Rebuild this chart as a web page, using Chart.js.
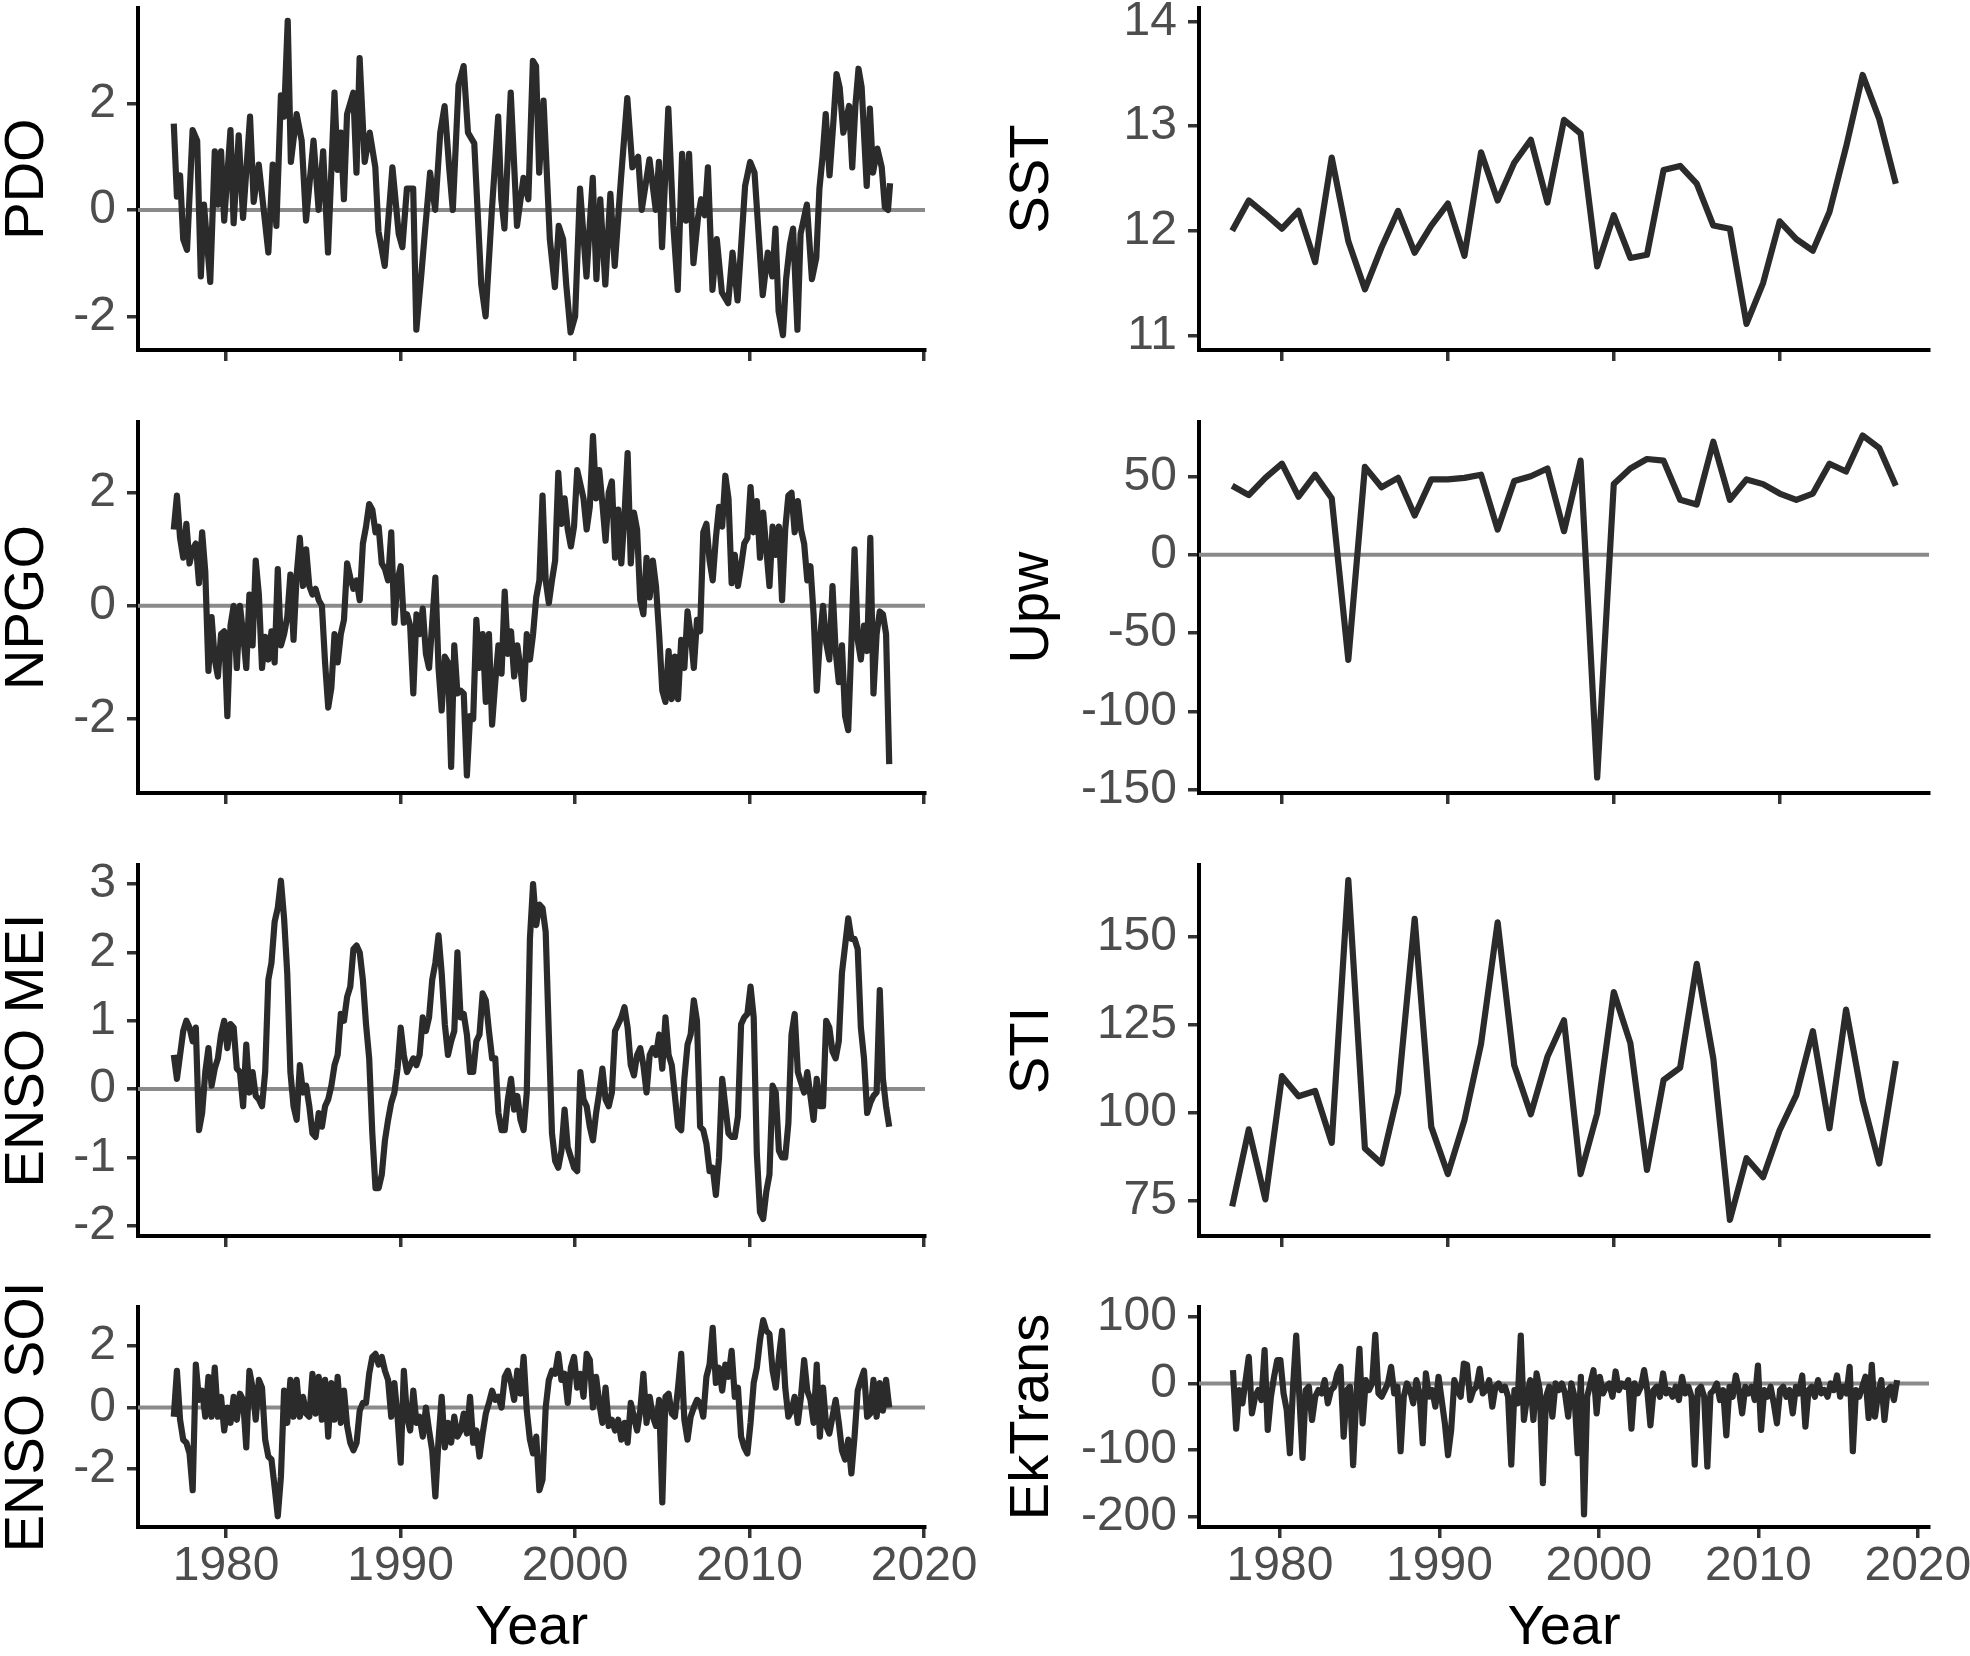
<!DOCTYPE html>
<html>
<head>
<meta charset="utf-8">
<script src="https://cdn.jsdelivr.net/npm/chart.js@4.4.1/dist/chart.umd.min.js"></script>
<style>
  html, body { margin: 0; padding: 0; background: #fff; }
  body { width: 1970px; height: 1656px; position: relative; overflow: hidden; }
  .panel { position: absolute; }
</style>
</head>
<body>
<script>
// ---- data ----
// left column: monthly climate indices 1977-2018 (sampled along the trace)
const pdoYears = [1977.00,1977.18,1977.36,1977.54,1977.76,1978.08,1978.34,1978.55,1978.73,1979.09,
  1979.35,1979.53,1979.71,1979.89,1980.25,1980.43,1980.72,1980.97,1981.37,1981.58,
  1981.87,1982.42,1982.67,1982.88,1983.14,1983.32,1983.53,1983.71,1984.04,1984.33,
  1984.58,1985.01,1985.30,1985.56,1985.84,1986.21,1986.39,1986.57,1986.75,1986.93,
  1987.29,1987.47,1987.65,1987.94,1988.23,1988.55,1988.73,1989.09,1989.53,1989.89,
  1990.10,1990.36,1990.72,1990.90,1991.19,1991.37,1991.69,1991.98,1992.27,1992.52,
  1992.78,1992.99,1993.32,1993.61,1993.86,1994.22,1994.62,1994.87,1995.23,1995.59,
  1995.77,1995.95,1996.31,1996.67,1997.04,1997.32,1997.58,1997.76,1997.94,1998.19,
  1998.55,1998.84,1999.06,1999.31,1999.49,1999.74,2000.00,2000.28,2000.65,2001.01,
  2001.22,2001.44,2001.73,2002.02,2002.27,2002.63,2002.99,2003.28,2003.61,2003.82,
  2004.26,2004.62,2004.80,2004.98,2005.34,2005.63,2005.88,2006.13,2006.35,2006.53,
  2006.78,2007.04,2007.22,2007.43,2007.61,2007.87,2008.12,2008.41,2008.77,2009.02,
  2009.31,2009.74,2010.03,2010.28,2010.75,2011.04,2011.30,2011.48,2011.66,2011.91,
  2012.09,2012.31,2012.49,2012.74,2012.92,2013.28,2013.57,2013.82,2014.00,2014.18,
  2014.36,2014.58,2014.80,2014.98,2015.16,2015.37,2015.70,2015.88,2016.06,2016.24,
  2016.42,2016.71,2016.89,2017.07,2017.32,2017.57,2017.75,2017.93,2018.05];
const pdoValues = [1.62,0.25,0.65,-0.55,-0.75,1.5,1.3,-1.25,0.1,-1.35,
  1.1,0.1,1.1,-0.2,1.5,-0.25,1.4,-0.15,1.75,0.15,
  0.85,-0.8,0.85,-0.3,2.15,1.75,3.55,0.9,1.8,1.3,
  -0.2,1.3,0.0,1.1,-0.8,2.2,0.75,1.45,0.2,1.8,
  2.2,0.7,2.85,0.9,1.45,0.8,-0.4,-1.05,0.8,-0.45,
  -0.7,0.4,0.4,-2.25,-1.2,-0.5,0.7,0.0,1.45,1.95,
  0.8,0.0,2.35,2.7,1.45,1.25,-1.4,-2.0,0.0,1.75,
  0.2,-0.35,2.2,-0.3,0.6,0.2,2.8,2.7,0.7,2.05,
  -0.55,-1.45,-0.3,-0.55,-1.4,-2.3,-2.0,0.4,-1.25,0.6,
  -1.3,0.2,-1.4,0.3,-1.05,0.6,2.1,0.8,1.0,0.0,
  0.95,0.0,0.9,-0.7,1.9,-0.3,-1.5,1.05,-0.2,1.05,
  -1.0,-0.15,0.2,-0.1,0.8,-1.5,-0.55,-1.55,-1.75,-0.8,
  -1.7,0.45,0.9,0.7,-1.6,-0.8,-1.25,-0.35,-1.9,-2.35,
  -1.3,-0.65,-0.35,-2.25,-0.45,0.1,-1.3,-0.9,0.4,1.0,
  1.8,0.65,1.65,2.55,2.3,1.45,1.95,0.8,1.95,2.65,
  2.3,0.45,1.9,0.7,1.15,0.8,0.05,0.0,0.5];

// these three were read at an even spacing from 1977 to 2018
const npgoValues = [1.35,1.95,1.2,0.85,1.45,0.75,1.0,1.1,0.4,1.3,
  0.6,-1.15,-0.2,-0.95,-1.25,-0.5,-0.45,-1.95,-0.35,0.0,
  -1.1,0.0,-0.5,-1.1,0.2,-0.7,0.8,0.2,-1.1,-0.55,
  -0.95,-0.45,-1.0,0.65,-0.7,-0.5,-0.2,0.55,-0.6,0.55,
  1.2,0.35,1.0,0.35,0.2,0.3,0.1,0.0,-1.0,-1.8,
  -1.45,-0.5,-1.0,-0.5,-0.25,0.75,0.5,0.3,0.45,0.1,
  1.1,1.4,1.8,1.7,1.3,1.4,0.75,0.65,0.45,1.3,
  -0.3,0.45,0.7,-0.3,-0.15,-0.35,-1.55,-0.15,-0.5,-0.05,
  -0.85,-1.1,-0.3,0.5,-1.1,-1.85,-0.9,-1.0,-2.85,-0.7,
  -1.55,-1.5,-1.55,-3.0,-1.95,-2.0,-0.25,-1.1,-0.5,-1.7,
  -0.5,-2.1,-1.35,-0.7,-1.2,0.25,-0.85,-0.45,-1.25,-0.7,
  -1.1,-1.65,-0.5,-0.95,-0.5,0.15,0.45,1.95,0.45,0.05,
  0.45,0.8,2.35,1.45,1.9,1.35,1.05,1.4,2.4,2.15,
  1.9,1.35,1.75,3.0,1.9,2.4,1.8,1.15,2.0,2.2,
  0.85,1.7,0.75,1.6,2.7,0.75,1.65,1.35,0.1,-0.15,
  0.85,0.15,0.8,0.35,-0.5,-1.5,-1.7,-0.8,-1.65,-0.9,
  -1.65,-0.6,-1.1,-0.1,-0.5,-1.1,-0.25,-0.45,1.3,1.45,
  0.8,0.45,1.2,1.75,1.4,2.3,1.9,0.4,0.9,0.35,
  0.7,1.1,1.2,2.1,1.3,1.85,0.85,1.65,1.0,0.35,
  1.4,0.9,1.4,0.1,1.35,1.95,2.0,1.3,1.85,1.35,
  1.1,0.45,0.7,-0.15,-1.5,-0.6,0.0,-0.65,-0.95,0.35,
  -0.8,-1.35,-0.7,-1.95,-2.2,-0.65,1.0,-0.6,-0.95,-0.35,
  -0.8,1.2,-1.55,-0.5,-0.1,-0.15,-0.5,-2.8];

const meiValues = [0.5,0.15,0.5,0.85,1.0,0.9,0.7,0.9,-0.6,-0.35,
  0.25,0.6,0.05,0.3,0.45,0.8,1.0,0.6,0.95,0.9,
  0.3,0.25,-0.25,0.65,-0.05,0.25,-0.1,-0.15,-0.25,0.25,
  1.6,1.85,2.45,2.65,3.05,2.5,1.7,0.25,-0.25,-0.45,
  0.35,-0.05,0.05,-0.25,-0.65,-0.7,-0.35,-0.55,-0.25,-0.15,
  0.05,0.35,0.5,1.1,1.0,1.35,1.5,2.05,2.1,2.0,
  1.6,0.95,0.45,-0.65,-1.45,-1.45,-1.25,-0.75,-0.45,-0.2,
  -0.05,0.3,0.9,0.5,0.25,0.35,0.45,0.35,0.5,1.05,
  0.85,1.05,1.6,1.85,2.25,1.7,0.95,0.5,0.7,0.85,
  2.0,1.05,1.1,0.8,0.25,0.25,0.7,0.8,1.4,1.3,
  0.85,0.45,0.45,-0.35,-0.6,-0.6,-0.15,0.15,-0.3,-0.1,
  -0.45,-0.6,-0.05,2.2,3.0,2.4,2.7,2.65,2.3,0.8,
  -0.65,-1.05,-1.15,-0.9,-0.3,-0.85,-1.0,-1.15,-1.2,0.25,
  -0.15,-0.25,-0.55,-0.75,-0.35,-0.05,0.3,-0.15,-0.25,-0.05,
  0.85,0.95,1.05,1.2,0.9,0.35,0.2,0.5,0.6,0.35,
  -0.05,0.5,0.6,0.5,0.8,0.3,1.05,0.5,0.35,-0.1,
  -0.55,-0.6,0.15,0.65,0.8,1.3,1.0,-0.55,-0.6,-0.8,
  -1.2,-1.15,-1.55,-1.0,0.15,-0.25,-0.65,-0.7,-0.7,-0.4,
  0.95,1.05,1.1,1.5,1.05,-0.95,-1.8,-1.9,-1.5,-1.25,
  0.05,-0.05,-0.9,-1.0,-1.0,-0.5,0.8,1.1,0.25,0.1,
  -0.05,0.25,-0.1,-0.45,0.15,-0.25,-0.25,1.0,0.9,0.55,
  0.45,0.7,1.7,2.1,2.5,2.2,2.2,2.05,0.9,0.45,
  -0.35,-0.2,-0.1,-0.05,1.45,0.15,-0.25,-0.55];

const soiValues = [-0.3,1.2,-0.4,-1.05,-1.15,-1.5,-2.7,1.4,0.25,0.55,
  -0.3,1.0,-0.3,1.3,-0.3,0.35,-0.75,0.0,-0.5,0.35,
  -0.4,0.45,0.25,-1.3,1.2,0.65,-0.4,0.9,0.65,-1.05,
  -1.6,-1.7,-2.6,-3.55,-2.25,0.55,-0.5,0.9,-0.3,0.9,
  -0.3,0.35,-0.2,-0.3,1.1,-0.2,1.0,-0.4,0.9,-0.95,
  0.8,-0.4,1.0,-0.5,0.55,-0.6,-1.15,-1.4,-1.15,-0.1,
  0.15,0.15,1.1,1.65,1.75,1.4,1.65,1.2,0.9,-0.3,
  0.8,-0.3,-1.8,1.2,-0.3,-0.75,0.55,-0.5,-0.3,-0.95,
  0.0,-0.75,-1.4,-2.9,-1.05,0.35,-1.3,-0.5,-1.15,-0.3,
  -0.95,-0.75,-0.2,-0.85,0.35,-1.15,-0.75,-1.6,-0.85,-0.2,
  0.15,0.55,0.25,0.35,0.0,1.0,1.2,0.8,0.25,1.2,
  0.45,1.65,-0.1,-1.05,-1.5,-0.95,-2.7,-2.35,0.0,0.9,
  1.2,1.1,1.75,0.9,1.1,0.15,1.3,1.65,0.65,1.1,
  0.35,1.75,1.55,0.0,1.0,0.15,-0.5,0.65,-0.6,-0.4,
  -0.75,-0.4,-1.05,-0.5,-1.15,0.15,-0.3,-0.75,-0.1,1.1,
  -0.5,0.35,-0.3,-0.6,0.25,-3.1,0.35,0.45,-0.2,-0.3,
  0.65,1.75,-0.4,-1.05,-0.3,0.0,0.25,0.15,-0.3,1.0,
  1.4,2.6,0.8,1.3,0.55,1.4,1.0,1.85,0.35,0.65,
  -0.95,-1.3,-1.5,-0.5,0.8,1.3,2.2,2.85,2.5,2.4,
  1.2,0.65,1.65,2.5,0.65,-0.3,-0.1,0.35,-0.5,0.35,
  1.55,0.55,0.25,-0.5,1.4,-0.95,0.65,-0.6,-0.85,-0.3,
  0.25,-0.5,-1.4,-1.7,-1.05,-2.15,-0.95,0.55,0.9,1.2,
  -0.3,-0.2,0.9,-0.3,0.8,-0.1,0.9,0.0];

// right column: annual series 1977-2017
const annualYears = [1977,1978,1979,1980,1981,1982,1983,1984,1985,1986,
  1987,1988,1989,1990,1991,1992,1993,1994,1995,1996,
  1997,1998,1999,2000,2001,2002,2003,2004,2005,2006,
  2007,2008,2009,2010,2011,2012,2013,2014,2015,2016,2017];
const sstValues = [12.0,12.29,12.16,12.02,12.19,11.70,12.70,11.90,11.44,11.84,
  12.19,11.79,12.05,12.26,11.76,12.75,12.29,12.65,12.87,12.27,
  13.06,12.93,11.66,12.15,11.74,11.77,12.58,12.62,12.45,12.05,
  12.02,11.11,11.50,12.09,11.92,11.81,12.18,12.80,13.49,13.07,12.45];
const upwValues = [44,38,49,58,37,51,36,-67,56,43,
  49,25,48,48,49,51,16,47,50,55,
  15,60,-142,45,55,61,60,35,32,72,
  35,48,45,39,35,39,58,53,76,68,44];
const stiValues = [73.4,95.3,75.4,110.4,104.7,106.2,91.5,166.1,89.9,85.6,
  105.7,155.1,96.0,82.6,97.9,119.6,154.1,113.5,99.6,115.9,
  126.3,82.6,99.8,134.3,119.8,83.8,109.3,112.8,142.3,115.4,
  69.6,87.1,81.7,95.1,105.0,123.2,95.6,129.3,103.6,85.6,114.7];

// Ekman transport, read at an even spacing from early 1977 to mid 2018
const ekValues = [20,-68,-10,-30,5,40,-45,-20,-10,-25,
  50,-70,-20,10,35,35,-15,-40,-105,-5,
  72,-20,-112,-10,-5,-55,-20,-10,-15,5,
  -30,-10,-5,15,25,-80,-10,-5,-123,-20,
  52,-60,5,-10,0,73,-15,-20,-10,0,
  25,-15,-5,-102,-20,0,-10,-30,5,-15,
  -90,15,-20,-10,-35,10,-25,-60,-108,-70,
  5,-10,-20,30,28,-25,-10,-5,22,-15,
  -10,5,-35,-5,0,-10,-5,-20,-122,-10,
  -30,72,-55,-20,5,-55,15,-10,-150,-20,
  -5,-50,0,-10,0,-15,-50,0,-20,-105,
  10,-197,-20,0,20,-45,10,-15,-5,0,
  -20,18,-10,0,-5,5,-68,0,-15,-5,
  20,-10,-63,-10,-5,-20,15,-15,-10,-20,
  -5,-25,10,-15,-5,-20,-122,-10,-5,-20,
  -125,-15,-10,0,-25,-10,-78,-5,-20,12,
  -10,-45,-5,-15,-5,-25,27,-70,-10,-20,
  -5,-30,-60,-10,-5,-20,-10,-45,-5,-15,
  12,-65,-10,-5,-20,5,-15,-10,-20,0,
  -10,12,-20,-5,-15,25,-102,-10,-20,-5,
  10,-52,28,-50,-15,5,-55,-10,-5,-25,5];

const yearTicks = [1980, 1990, 2000, 2010, 2020];

// even sample positions between the first and last reading
function evenYears(start, end, n) {
  const out = [];
  for (let i = 0; i < n; i++) out.push(start + (end - start) * i / (n - 1));
  return out;
}
const npgoYears = evenYears(1977, 2018, npgoValues.length);
const meiYears = evenYears(1977, 2018, meiValues.length);
const soiYears = evenYears(1977, 2018, soiValues.length);
const ekYears = evenYears(1977.05, 2018.7, ekValues.length);

// ---- layout (page pixels) ----
const FONT = '"Liberation Sans", Arial, Helvetica, sans-serif';
const LINE = '#2b2b2b';
const rows = [[8, 350], [422, 793], [865, 1236], [1307, 1527]];
const cols = [
  { left: 0, axis: 138, width: 1010, right: 925, titlePad: 0 },
  { left: 985, axis: 1199, width: 1030, right: 1929, titlePad: 20 }
];
const PAD_TOP = 50;

const panels = [
  { col: 0, row: 0, title: 'PDO', x: pdoYears, y: pdoValues, xMin: 1974.95, xMax: 2020.05, yMin: -2.63, yMax: 3.79, yTicks: [-2, 0, 2], zero: true },
  { col: 0, row: 1, title: 'NPGO', x: npgoYears, y: npgoValues, xMin: 1974.95, xMax: 2020.05, yMin: -3.31, yMax: 3.25, yTicks: [-2, 0, 2], zero: true },
  { col: 0, row: 2, title: 'ENSO MEI', x: meiYears, y: meiValues, xMin: 1974.95, xMax: 2020.05, yMin: -2.15, yMax: 3.28, yTicks: [-2, -1, 0, 1, 2, 3], zero: true },
  { col: 0, row: 3, title: 'ENSO SOI', x: soiYears, y: soiValues, xMin: 1974.95, xMax: 2020.05, yMin: -3.9, yMax: 3.28, yTicks: [-2, 0, 2], zero: true },
  { col: 1, row: 0, title: 'SST', x: annualYears, y: sstValues, xMin: 1975, xMax: 2019, yMin: 10.86, yMax: 14.13, yTicks: [11, 12, 13, 14], zero: false },
  { col: 1, row: 1, title: 'Upw', x: annualYears, y: upwValues, xMin: 1975, xMax: 2019, yMin: -151.9, yMax: 84.6, yTicks: [-150, -100, -50, 0, 50], zero: true },
  { col: 1, row: 2, title: 'STI', x: annualYears, y: stiValues, xMin: 1975, xMax: 2019, yMin: 65, yMax: 170.4, yTicks: [75, 100, 125, 150], zero: false },
  { col: 1, row: 3, title: 'EkTrans', x: ekYears, y: ekValues, xMin: 1974.92, xMax: 2020.7, yMin: -216, yMax: 115, yTicks: [-200, -100, 0, 100], zero: true }
];

function axisLines() {
  return {
    grid: { display: true, drawOnChartArea: false, drawTicks: true, tickLength: 11,
            color: '#333333', tickColor: '#333333', lineWidth: 3.5, tickWidth: 3.5 },
    border: { display: true, color: '#000000', width: 4 }
  };
}

function makePanel(p) {
  const col = cols[p.col];
  const [top, bottom] = rows[p.row];
  const isBottom = p.row === 3;
  const xAxisH = isBottom ? 132 : 22;
  const padBottom = isBottom ? 0 : 40;
  const w = col.width;
  const h = PAD_TOP + (bottom - top) + xAxisH + padBottom;

  const div = document.createElement('div');
  div.className = 'panel';
  div.style.left = col.left + 'px';
  div.style.top = (top - PAD_TOP) + 'px';
  const canvas = document.createElement('canvas');
  canvas.width = w; canvas.height = h;
  canvas.style.width = w + 'px'; canvas.style.height = h + 'px';
  div.appendChild(canvas);
  document.body.appendChild(div);

  const datasets = [{
    data: p.x.map((v, i) => ({ x: v, y: p.y[i] })),
    borderColor: LINE, borderWidth: 6.2, pointRadius: 0, tension: 0,
    borderJoinStyle: 'round', fill: false
  }];
  // horizontal reference line at zero, drawn under the series
  if (p.zero) {
    datasets.push({
      data: [{ x: p.xMin, y: 0 }, { x: p.xMax, y: 0 }],
      borderColor: '#8a8a8a', borderWidth: 4, pointRadius: 0, fill: false
    });
  }
  const xTicks = yearTicks.filter(v => v >= p.xMin && v <= p.xMax);

  new Chart(canvas.getContext('2d'), {
    type: 'line',
    data: { datasets },
    options: {
      responsive: false,
      animation: false,
      devicePixelRatio: 1,
      events: [],
      layout: { padding: { top: PAD_TOP, left: 0, right: w - (col.right - col.left), bottom: padBottom } },
      plugins: { legend: { display: false }, tooltip: { enabled: false } },
      scales: {
        x: {
          type: 'linear', position: 'bottom', min: p.xMin, max: p.xMax,
          afterBuildTicks: s => { s.ticks = xTicks.map(v => ({ value: v })); },
          afterFit: s => { s.height = xAxisH; },
          ...axisLines(),
          ticks: { display: isBottom, autoSkip: false, maxRotation: 0, padding: 5,
                   color: '#4d4d4d', font: { family: FONT, size: 48, lineHeight: 1 },
                   callback: v => String(v) },
          title: { display: isBottom, text: 'Year', color: '#000000',
                   font: { family: FONT, size: 56, lineHeight: 1 }, padding: { top: 0, bottom: 2 } }
        },
        y: {
          type: 'linear', position: 'left', min: p.yMin, max: p.yMax,
          afterBuildTicks: s => { s.ticks = p.yTicks.map(v => ({ value: v })); },
          afterFit: s => { s.width = col.axis - col.left; },
          ...axisLines(),
          ticks: { padding: 11, color: '#4d4d4d', font: { family: FONT, size: 48 },
                   callback: v => String(v) },
          title: { display: true, text: p.title, color: '#000000',
                   font: { family: FONT, size: 56, lineHeight: 1 }, padding: { top: col.titlePad, bottom: 0 } }
        }
      }
    }
  });
}

panels.forEach(makePanel);
</script>
</body>
</html>
